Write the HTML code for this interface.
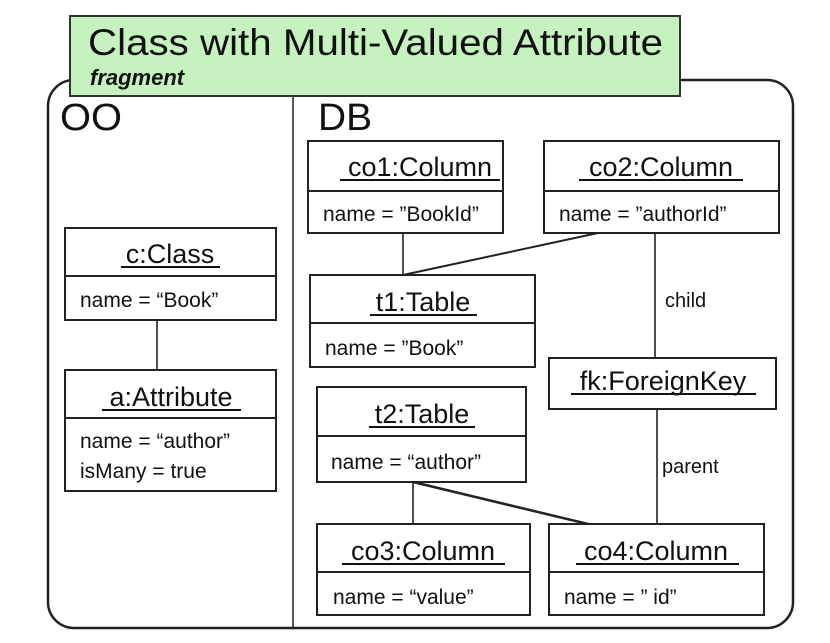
<!DOCTYPE html>
<html><head><meta charset="utf-8"><style>
html,body{margin:0;padding:0;background:#fff;}
svg{display:block;font-family:"Liberation Sans",Arial,sans-serif;}
</style></head><body>
<svg width="830" height="643" viewBox="0 0 830 643" xmlns="http://www.w3.org/2000/svg">
<rect x="48" y="80" width="745" height="548" rx="26" ry="26" fill="#fff" stroke="#222" stroke-width="2.5"/>
<line x1="293" y1="96" x2="293" y2="628" stroke="#222" stroke-width="1.5"/>
<rect x="70" y="16" width="610" height="80" fill="#c6f2c0" stroke="#333" stroke-width="2"/>
<text x="88" y="55" font-size="37" fill="#111" textLength="575" lengthAdjust="spacingAndGlyphs">Class with Multi-Valued Attribute</text>
<text x="90" y="85" font-size="22" font-weight="bold" font-style="italic" fill="#111">fragment</text>
<text x="60" y="130" font-size="38" fill="#111" textLength="62" lengthAdjust="spacingAndGlyphs">OO</text>
<text x="318" y="130" font-size="38" fill="#111" textLength="54" lengthAdjust="spacingAndGlyphs">DB</text>

<g stroke="#222" stroke-width="1.6" fill="none">
<line x1="157" y1="320" x2="157" y2="370"/>
<line x1="403" y1="233" x2="403" y2="275"/>
<line x1="598" y1="233" x2="403" y2="275" stroke-width="2"/>
<line x1="655" y1="233" x2="655" y2="358"/>
<line x1="657" y1="409" x2="657" y2="524"/>
<line x1="413" y1="482" x2="413" y2="524"/>
<line x1="413" y1="482" x2="588" y2="524" stroke-width="2.5"/>
</g>
<text x="665" y="307" font-size="20" fill="#111">child</text>
<text x="662" y="473" font-size="20" fill="#111">parent</text>

<g stroke="#222" stroke-width="2" fill="#fff">
<rect x="65" y="228" width="211" height="92"/><line x1="65" y1="276" x2="276" y2="276"/>
<rect x="65" y="370" width="211" height="121"/><line x1="65" y1="418" x2="276" y2="418"/>
<rect x="308" y="141" width="195" height="92"/><line x1="308" y1="191" x2="503" y2="191"/>
<rect x="544" y="141" width="235" height="92"/><line x1="544" y1="191" x2="779" y2="191"/>
<rect x="310" y="275" width="225" height="92"/><line x1="310" y1="323" x2="535" y2="323"/>
<rect x="549" y="358" width="227" height="51"/>
<rect x="317" y="387" width="209" height="95"/><line x1="317" y1="436" x2="526" y2="436"/>
<rect x="317" y="524" width="213" height="91"/><line x1="317" y1="572" x2="530" y2="572"/>
<rect x="549" y="524" width="215" height="91"/><line x1="549" y1="572" x2="764" y2="572"/>
</g>

<g font-size="27" fill="#111" text-anchor="middle">
<text x="170" y="263">c:Class</text>
<text x="171" y="406">a:Attribute</text>
<text x="420" y="176">co1:Column</text>
<text x="661" y="176">co2:Column</text>
<text x="423" y="311">t1:Table</text>
<text x="663" y="390">fk:ForeignKey</text>
<text x="422" y="423">t2:Table</text>
<text x="423" y="560">co3:Column</text>
<text x="656" y="560">co4:Column</text>
</g>
<g stroke="#111" stroke-width="2">
<line x1="121" y1="267" x2="220" y2="267"/>
<line x1="102" y1="410" x2="241" y2="410"/>
<line x1="340" y1="180" x2="500" y2="180"/>
<line x1="579" y1="180" x2="743" y2="180"/>
<line x1="370" y1="315" x2="477" y2="315"/>
<line x1="571" y1="394" x2="756" y2="394"/>
<line x1="369" y1="427" x2="475" y2="427"/>
<line x1="342" y1="564" x2="505" y2="564"/>
<line x1="576" y1="564" x2="739" y2="564"/>
</g>

<g font-size="21" fill="#111">
<text x="80" y="307">name = “Book”</text>
<text x="80" y="448">name = “author”</text>
<text x="80" y="478">isMany = true</text>
<text x="323" y="221">name = ”BookId”</text>
<text x="559" y="221">name = ”authorId”</text>
<text x="325" y="355">name = ”Book”</text>
<text x="331" y="469">name = “author”</text>
<text x="333" y="604">name = “value”</text>
<text x="564" y="604">name = ” id”</text>
</g>
</svg>
</body></html>
